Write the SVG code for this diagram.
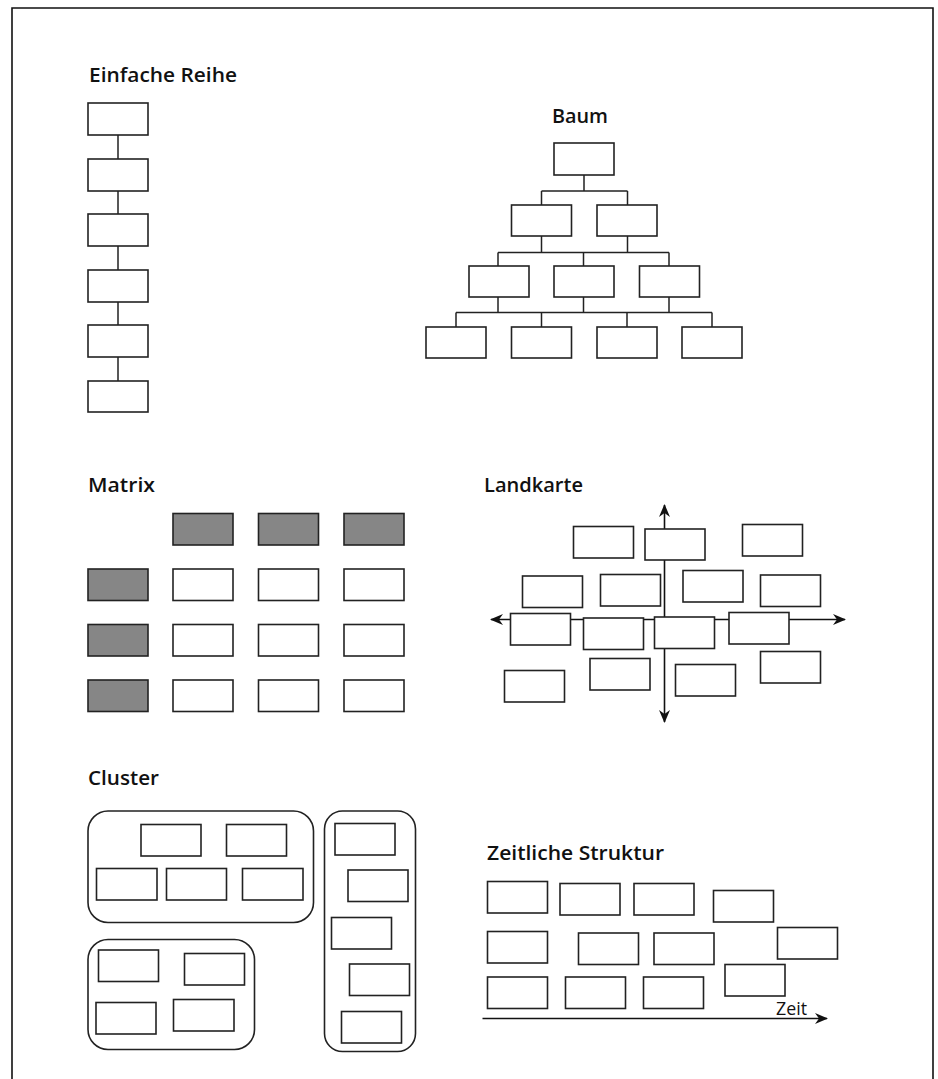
<svg xmlns="http://www.w3.org/2000/svg" width="938" height="1079" viewBox="0 0 938 1079">
<style>
  .t { font-family: "Open Sans", "DejaVu Sans", sans-serif; font-weight: 600; font-size: 20px; fill: #111; }
  .z { font-family: "Open Sans", "DejaVu Sans", sans-serif; font-size: 18px; fill: #111; }
  .b { fill: #fff; stroke: #222; stroke-width: 1.6; }
  .g { fill: #868686; stroke: #222; stroke-width: 1.6; }
  .c { fill: none; stroke: #222; stroke-width: 1.6; }
  .l { fill: none; stroke: #222; stroke-width: 1.5; }
  .a { fill: none; stroke: #111; stroke-width: 1.6; }
</style>
<defs>
  <marker id="ah" viewBox="0 0 13 11" refX="12" refY="5.5" markerWidth="13" markerHeight="11" markerUnits="userSpaceOnUse" orient="auto">
    <path d="M0,0 L13,5.5 L0,11 L4,5.5 z" fill="#111"/>
  </marker>
</defs>
<rect x="0" y="0" width="938" height="1079" fill="#fff"/>
<path d="M12,1079 V8 H933 V1079" fill="none" stroke="#111" stroke-width="1.6"/>

<!-- Einfache Reihe -->
<g id="reihe">
  <text class="t" x="89" y="82" textLength="148" lengthAdjust="spacingAndGlyphs">Einfache Reihe</text>
  <g id="reihe-connectors">
    <path class="l" d="M118,135 V159 M118,191 V214 M118,246 V270 M118,302 V325 M118,357 V381"/>
  </g>
  <g id="reihe-n1"><rect class="b" x="88" y="103" width="60" height="32"/></g>
  <g id="reihe-n2"><rect class="b" x="88" y="159" width="60" height="32"/></g>
  <g id="reihe-n3"><rect class="b" x="88" y="214" width="60" height="32"/></g>
  <g id="reihe-n4"><rect class="b" x="88" y="270" width="60" height="32"/></g>
  <g id="reihe-n5"><rect class="b" x="88" y="325" width="60" height="32"/></g>
  <g id="reihe-n6"><rect class="b" x="88" y="381" width="60" height="31"/></g>
</g>

<!-- Baum -->
<g id="baum">
  <text class="t" x="552" y="123" textLength="56" lengthAdjust="spacingAndGlyphs">Baum</text>
  <g id="baum-connectors">
    <path class="l" d="M584,175 V191 M541.5,191 H627.5 M541.5,191 V205 M627.5,191 V205"/>
    <path class="l" d="M541.5,236 V252.5 M627.5,236 V252.5 M498,252.5 H669 M498,252.5 V266 M583.5,252.5 V266 M669,252.5 V266"/>
    <path class="l" d="M498,297 V312.5 M583.5,297 V312.5 M669,297 V312.5 M456,312.5 H712 M456,312.5 V327 M541.5,312.5 V327 M627,312.5 V327 M712,312.5 V327"/>
  </g>
  <g id="baum-root"><rect class="b" x="554" y="143" width="60" height="32"/></g>
  <g id="baum-2a"><rect class="b" x="511.5" y="205" width="60" height="31"/></g>
  <g id="baum-2b"><rect class="b" x="597" y="205" width="60" height="31"/></g>
  <g id="baum-3a"><rect class="b" x="469" y="266" width="60" height="31"/></g>
  <g id="baum-3b"><rect class="b" x="554" y="266" width="60" height="31"/></g>
  <g id="baum-3c"><rect class="b" x="639.5" y="266" width="60" height="31"/></g>
  <g id="baum-4a"><rect class="b" x="426" y="327" width="60" height="31"/></g>
  <g id="baum-4b"><rect class="b" x="511.5" y="327" width="60" height="31"/></g>
  <g id="baum-4c"><rect class="b" x="597" y="327" width="60" height="31"/></g>
  <g id="baum-4d"><rect class="b" x="682" y="327" width="60" height="31"/></g>
</g>

<!-- Matrix -->
<g id="matrix">
  <text class="t" x="88" y="492" textLength="67" lengthAdjust="spacingAndGlyphs">Matrix</text>
  <g id="m-h1"><rect class="g" x="173" y="513.5" width="60" height="31.5"/></g>
  <g id="m-h2"><rect class="g" x="258.5" y="513.5" width="60" height="31.5"/></g>
  <g id="m-h3"><rect class="g" x="344" y="513.5" width="60" height="31.5"/></g>
  <g id="m-r1"><rect class="g" x="88" y="569" width="60" height="31.5"/></g>
  <g id="m-r2"><rect class="g" x="88" y="624.5" width="60" height="31.5"/></g>
  <g id="m-r3"><rect class="g" x="88" y="680" width="60" height="31.5"/></g>
  <g id="m-11"><rect class="b" x="173" y="569" width="60" height="31.5"/></g>
  <g id="m-12"><rect class="b" x="258.5" y="569" width="60" height="31.5"/></g>
  <g id="m-13"><rect class="b" x="344" y="569" width="60" height="31.5"/></g>
  <g id="m-21"><rect class="b" x="173" y="624.5" width="60" height="31.5"/></g>
  <g id="m-22"><rect class="b" x="258.5" y="624.5" width="60" height="31.5"/></g>
  <g id="m-23"><rect class="b" x="344" y="624.5" width="60" height="31.5"/></g>
  <g id="m-31"><rect class="b" x="173" y="680" width="60" height="31.5"/></g>
  <g id="m-32"><rect class="b" x="258.5" y="680" width="60" height="31.5"/></g>
  <g id="m-33"><rect class="b" x="344" y="680" width="60" height="31.5"/></g>
</g>

<!-- Landkarte -->
<g id="landkarte">
  <text class="t" x="484" y="492" textLength="99" lengthAdjust="spacingAndGlyphs">Landkarte</text>
  <g id="landkarte-connectors">
    <line class="a" x1="664.5" y1="620" x2="664.5" y2="505" marker-end="url(#ah)"/>
    <line class="a" x1="664.5" y1="618" x2="664.5" y2="722" marker-end="url(#ah)"/>
    <line class="a" x1="666" y1="619.5" x2="491" y2="619.5" marker-end="url(#ah)"/>
    <line class="a" x1="663" y1="619.5" x2="845" y2="619.5" marker-end="url(#ah)"/>
  </g>
  <g id="lk-1"><rect class="b" x="573.5" y="526.5" width="60" height="31.5"/></g>
  <g id="lk-2"><rect class="b" x="645" y="529" width="60" height="31"/></g>
  <g id="lk-3"><rect class="b" x="742.5" y="524.5" width="60" height="31.5"/></g>
  <g id="lk-4"><rect class="b" x="522.5" y="576" width="60" height="31.5"/></g>
  <g id="lk-5"><rect class="b" x="600.5" y="574.5" width="60" height="31.5"/></g>
  <g id="lk-6"><rect class="b" x="683" y="570.5" width="60" height="31.5"/></g>
  <g id="lk-7"><rect class="b" x="760.5" y="575" width="60" height="31.5"/></g>
  <g id="lk-8"><rect class="b" x="510.5" y="613.5" width="60" height="31.5"/></g>
  <g id="lk-9"><rect class="b" x="583.5" y="618" width="60" height="31.5"/></g>
  <g id="lk-10"><rect class="b" x="654.5" y="617" width="60" height="31.5"/></g>
  <g id="lk-11"><rect class="b" x="729" y="612.5" width="60" height="31.5"/></g>
  <g id="lk-12"><rect class="b" x="504.5" y="670.5" width="60" height="31.5"/></g>
  <g id="lk-13"><rect class="b" x="590" y="658.5" width="60" height="31.5"/></g>
  <g id="lk-14"><rect class="b" x="675.5" y="664.5" width="60" height="31.5"/></g>
  <g id="lk-15"><rect class="b" x="760.5" y="651.5" width="60" height="31.5"/></g>
</g>

<!-- Cluster -->
<g id="cluster">
  <text class="t" x="88" y="785" textLength="71" lengthAdjust="spacingAndGlyphs">Cluster</text>
  <g id="cl-a">
    <rect class="c" x="88" y="811" width="225.5" height="111.5" rx="20" ry="20"/>
    <rect class="b" x="141" y="824.5" width="60" height="31.5"/>
    <rect class="b" x="226.5" y="824.5" width="60" height="31.5"/>
    <rect class="b" x="96.5" y="868.5" width="60.5" height="31.5"/>
    <rect class="b" x="166.5" y="868.5" width="60" height="31.5"/>
    <rect class="b" x="242.5" y="868.5" width="60.5" height="31.5"/>
  </g>
  <g id="cl-b">
    <rect class="c" x="88" y="939.5" width="166.5" height="110" rx="20" ry="20"/>
    <rect class="b" x="98.5" y="950" width="60" height="31.5"/>
    <rect class="b" x="184.5" y="953.5" width="60" height="31.5"/>
    <rect class="b" x="96" y="1002.5" width="60" height="31.5"/>
    <rect class="b" x="173.5" y="999.5" width="60.5" height="31.5"/>
  </g>
  <g id="cl-c">
    <rect class="c" x="324.5" y="811" width="91" height="240.5" rx="18" ry="18"/>
    <rect class="b" x="335" y="823.5" width="60" height="31.5"/>
    <rect class="b" x="348" y="870" width="60" height="31.5"/>
    <rect class="b" x="331.5" y="917.5" width="60" height="31.5"/>
    <rect class="b" x="349.5" y="964" width="60" height="31.5"/>
    <rect class="b" x="341.5" y="1011.5" width="60" height="31.5"/>
  </g>
</g>

<!-- Zeitliche Struktur -->
<g id="zeit">
  <text class="t" x="487" y="860" textLength="177" lengthAdjust="spacingAndGlyphs">Zeitliche Struktur</text>
  <g id="zeit-connectors">
    <line class="a" x1="482.5" y1="1018.5" x2="827" y2="1018.5" marker-end="url(#ah)"/>
  </g>
  <text class="z" x="776" y="1015" textLength="31" lengthAdjust="spacingAndGlyphs">Zeit</text>
  <g id="zs-1"><rect class="b" x="487.5" y="881.5" width="60" height="31.5"/></g>
  <g id="zs-2"><rect class="b" x="560" y="883.5" width="60" height="31.5"/></g>
  <g id="zs-3"><rect class="b" x="634" y="883.5" width="60" height="31.5"/></g>
  <g id="zs-4"><rect class="b" x="713.5" y="890.5" width="60" height="31.5"/></g>
  <g id="zs-5"><rect class="b" x="487.5" y="931.5" width="60" height="31.5"/></g>
  <g id="zs-6"><rect class="b" x="578.5" y="933" width="60" height="31.5"/></g>
  <g id="zs-7"><rect class="b" x="654" y="933" width="60" height="31.5"/></g>
  <g id="zs-8"><rect class="b" x="777.5" y="927.5" width="60" height="31.5"/></g>
  <g id="zs-9"><rect class="b" x="487.5" y="977" width="60" height="31.5"/></g>
  <g id="zs-10"><rect class="b" x="565.5" y="977" width="60" height="31.5"/></g>
  <g id="zs-11"><rect class="b" x="643.5" y="977" width="60" height="31.5"/></g>
  <g id="zs-12"><rect class="b" x="725" y="964.5" width="60" height="31.5"/></g>
</g>
</svg>
